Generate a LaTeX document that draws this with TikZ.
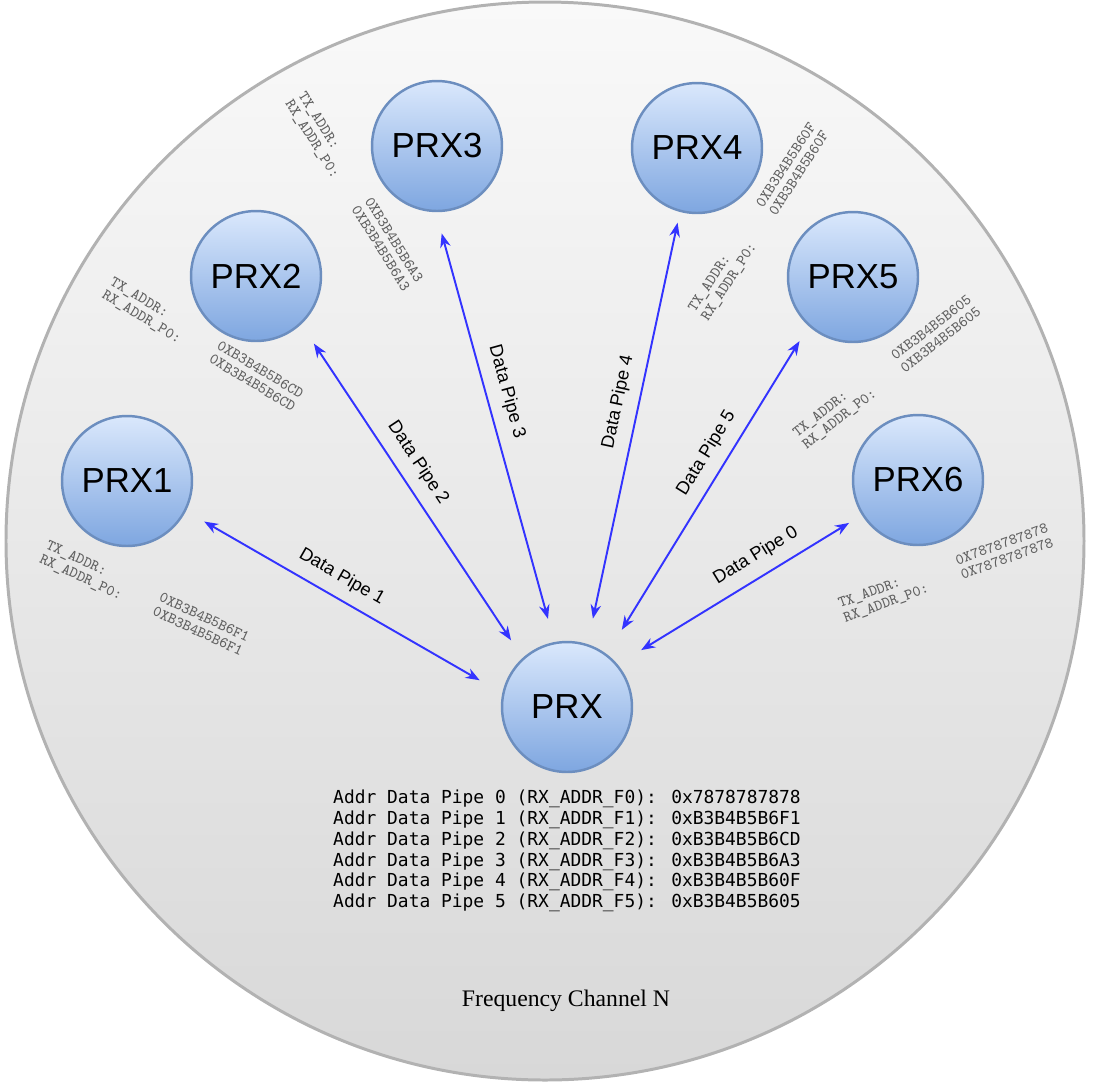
\documentclass[tikz,border=0pt]{standalone}
\usepackage{fontspec}
\setmainfont{Liberation Sans}
\newfontfamily\listfont{DejaVu Sans Mono}
\newfontfamily\chanfont{Liberation Serif}
\usepackage{xcolor}
\usepackage{array}
\usetikzlibrary{arrows.meta}
\usetikzlibrary{shapes}
\definecolor{prxtop}{HTML}{DAE8FC}
\definecolor{prxbottom}{HTML}{7EA6E0}
\definecolor{prxborder}{HTML}{6C8EBF}
\definecolor{pipeblue}{RGB}{51,51,255}
\definecolor{chantop}{RGB}{249,249,249}
\definecolor{chanbottom}{RGB}{216,216,216}
\definecolor{chanborder}{RGB}{178,178,178}
\definecolor{addrgray}{RGB}{95,95,95}
\tikzset{prxnode/.style={shape=circle,draw=prxborder,line width=1.4pt,top color=prxtop,bottom color=prxbottom,inner sep=0,minimum size=2.6cm,font=\fontsize{19.8}{22}\selectfont}}
\tikzset{pipearrow/.style={draw=pipeblue,line width=1.1pt,<->,>={Stealth[length=8pt,width=6pt]}}}
\tikzset{pipelabel/.style={font=\fontsize{10.4}{12}\selectfont,sloped,above=3pt}}
\tikzset{addrlabel/.style={text=addrgray,inner sep=0,anchor=base west,font=\ttfamily\fontsize{8.8}{8.8}\selectfont}}

\begin{document}
\begin{tikzpicture}[x=0.02cm,y=-0.02cm]

\useasboundingbox (0,0) rectangle (1093,1083);

% frequency channel
\draw [draw=chanborder, line width=1.7pt, top color=chantop, bottom color=chanbottom] (545,541) circle (539);
\node [font=\chanfont\fontsize{13.5}{16}\selectfont] (chan) at (566,1001) {Frequency Channel N};

\node [prxnode] (prx1) at (127,481) {PRX1};
\node [prxnode] (prx2) at (256,276) {PRX2};
\node [prxnode] (prx3) at (437,146) {PRX3};
\node [prxnode] (prx4) at (697,148) {PRX4};
\node [prxnode] (prx5) at (853,277) {PRX5};
\node [prxnode] (prx6) at (918,480) {PRX6};
\node [prxnode] (prx) at (567,707) {PRX};

% pipes
\draw [pipearrow, shorten <=0.42cm, shorten >=0.52cm] (prx1.-27) -- node[pipelabel,pos=0.46] {Data Pipe 1} (prx.168);
\draw [pipearrow, shorten <=0.46cm, shorten >=0.42cm] (prx2.-47) -- node[pipelabel,pos=0.45] {Data Pipe 2} (prx.132);
\draw [pipearrow, shorten <=0.44cm, shorten >=0.48cm] (prx3.-91) -- node[pipelabel,pos=0.43] {Data Pipe 3} (prx.101);
\draw [pipearrow, shorten <=0.22cm, shorten >=0.52cm] (prx4.-105) -- node[pipelabel,pos=0.45] {Data Pipe 4} (prx.72);
\draw [pipearrow, shorten <=0.35cm, shorten >=0.57cm] (prx5.-132) -- node[pipelabel,pos=0.42] {Data Pipe 5} (prx.53);
\draw [pipearrow, shorten <=0.3cm, shorten >=0.55cm] (prx6.-148) -- node[pipelabel,pos=0.39] {Data Pipe 0} (prx.40);

% addresses
\node [addrlabel, rotate=-25] (addr1) at (45,548) {\begin{tabular}[t]{@{}p{71pt}@{}l@{}}TX\_ADDR: & 0XB3B4B5B6F1\\RX\_ADDR\_P0: & 0XB3B4B5B6F1\end{tabular}};
\node [addrlabel, rotate=-31] (addr2) at (109,284) {\begin{tabular}[t]{@{}p{71pt}@{}l@{}}TX\_ADDR: & 0XB3B4B5B6CD\\RX\_ADDR\_P0: & 0XB3B4B5B6CD\end{tabular}};
\node [addrlabel, rotate=-58] (addr3) at (298,95) {\begin{tabular}[t]{@{}p{71pt}@{}l@{}}TX\_ADDR: & 0XB3B4B5B6A3\\RX\_ADDR\_P0: & 0XB3B4B5B6A3\end{tabular}};
\node [addrlabel, rotate=57] (addr4) at (695,313) {\begin{tabular}[t]{@{}p{71pt}@{}l@{}}TX\_ADDR: & 0XB3B4B5B60F\\RX\_ADDR\_P0: & 0XB3B4B5B60F\end{tabular}};
\node [addrlabel, rotate=38] (addr5) at (797,438) {\begin{tabular}[t]{@{}p{71pt}@{}l@{}}TX\_ADDR: & 0XB3B4B5B605\\RX\_ADDR\_P0: & 0XB3B4B5B605\end{tabular}};
\node [addrlabel, rotate=20] (addr6) at (840,608) {\begin{tabular}[t]{@{}p{71pt}@{}l@{}}TX\_ADDR: & 0X7878787878\\RX\_ADDR\_P0: & 0X7878787878\end{tabular}};

% pipe address list
\node [font=\listfont\fontsize{10.2}{11.8}\selectfont, align=left] (pipelist) at (567,851) {Addr Data Pipe 0 (RX\_ADDR\_F0): 0x7878787878\\Addr Data Pipe 1 (RX\_ADDR\_F1): 0xB3B4B5B6F1\\Addr Data Pipe 2 (RX\_ADDR\_F2): 0xB3B4B5B6CD\\Addr Data Pipe 3 (RX\_ADDR\_F3): 0xB3B4B5B6A3\\Addr Data Pipe 4 (RX\_ADDR\_F4): 0xB3B4B5B60F\\Addr Data Pipe 5 (RX\_ADDR\_F5): 0xB3B4B5B605};

\end{tikzpicture}
\end{document}
